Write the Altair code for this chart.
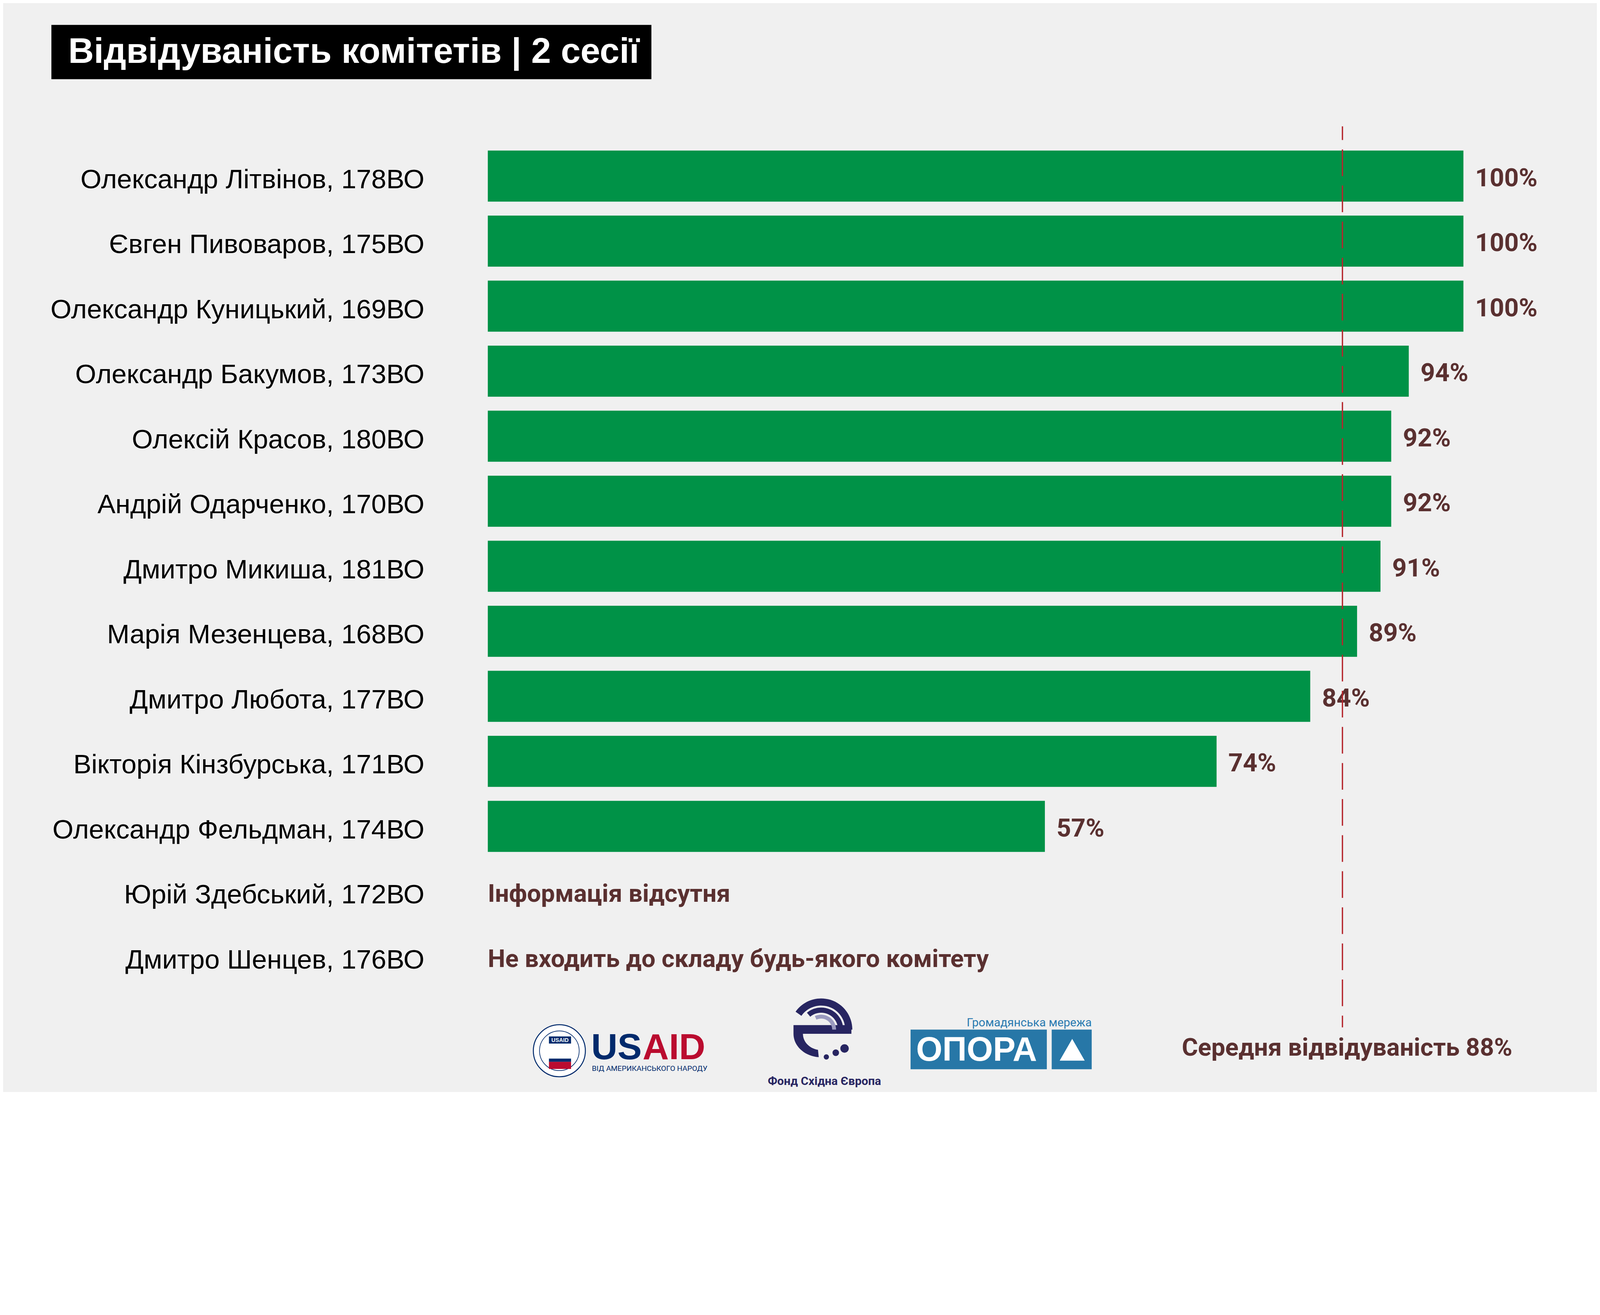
import altair as alt
import pandas as pd

# ---------------- data ----------------
title = "Відвідуваність комітетів | 2 сесії"
names = [
    "Олександр Літвінов, 178ВО",
    "Євген Пивоваров, 175ВО",
    "Олександр Куницький, 169ВО",
    "Олександр Бакумов, 173ВО",
    "Олексій Красов, 180ВО",
    "Андрій Одарченко, 170ВО",
    "Дмитро Микиша, 181ВО",
    "Марія Мезенцева, 168ВО",
    "Дмитро Любота, 177ВО",
    "Вікторія Кінзбурська, 171ВО",
    "Олександр Фельдман, 174ВО",
    "Юрій Здебський, 172ВО",
    "Дмитро Шенцев, 176ВО",
]
attendance = [100, 100, 100, 94.4, 92.6, 92.6, 91.5, 89.1, 84.3, 74.7, 57.1]
attendance_labels = ["100%", "100%", "100%", "94%", "92%", "92%", "91%", "89%", "84%", "74%", "57%"]
note_names = ["Юрій Здебський, 172ВО", "Дмитро Шенцев, 176ВО"]
notes = ["Інформація відсутня", "Не входить до складу будь-якого комітету"]
average_line = 87.6
average_label = "Середня відвідуваність 88%"

# ---------------- styles ----------------
BG = "#f0f0f0"
GREEN = "#009247"
BROWN = "#5a3030"
RED_LINE = "#b5262d"
NAVY = "#002a6c"
USRED = "#ba0c2f"
FOND = "#272561"
OPORA = "#2777a7"
SANS = "'Liberation Sans', Arial, sans-serif"
NARROW = "'Liberation Sans Narrow', 'Arial Narrow', Roboto, sans-serif"

# The page is photographed at a device pixel ratio of about 1.2:
# layout below is given in photo pixels and converted to CSS pixels.
DPR = 1.2
def P(v):   # photo-pixel position -> chart coordinate
    return v / DPR - 8
def Z(v):   # photo-pixel length -> CSS length
    return v / DPR

W, H = 4084, 2788

names_df = pd.DataFrame({"name": names})
bars_df = pd.DataFrame({"name": names[:len(attendance)], "value": attendance, "label": attendance_labels})
notes_df = pd.DataFrame({"name": note_names, "note": notes})

xscale = alt.Scale(domain=[0, 100], range=[P(1500), P(4500)])
Y = alt.Y(
    "name:N",
    sort=names,
    scale=alt.Scale(domain=names, range=[P(440), P(3040)], paddingInner=0.215, paddingOuter=0.1075),
    axis=None,
)

name_text = alt.Chart(names_df).mark_text(
    align="right", baseline="alphabetic", dy=Z(37),
    font=SANS, fontSize=Z(83), color="#000000",
).encode(x=alt.value(P(1305)), y=Y, text="name:N")

bars = alt.Chart(bars_df).mark_bar(color=GREEN).encode(
    x=alt.X("value:Q", scale=xscale, axis=None),
    y=Y,
)

value_text = alt.Chart(bars_df).mark_text(
    align="left", baseline="alphabetic", dx=Z(36), dy=Z(31),
    font=NARROW, fontWeight="bold", fontSize=Z(78), color=BROWN,
).encode(
    x=alt.X("value:Q", scale=xscale, axis=None),
    y=Y,
    text="label:N",
)

note_text = alt.Chart(notes_df).mark_text(
    align="left", baseline="alphabetic", dy=Z(32),
    font=NARROW, fontWeight="bold", fontSize=Z(76), color=BROWN,
).encode(
    x=alt.X(datum=0, type="quantitative", scale=xscale, axis=None),
    y=Y,
    text="note:N",
)

avg_rule = alt.Chart(pd.DataFrame({"avg": [average_line]})).mark_rule(
    color=RED_LINE, strokeWidth=Z(4), strokeDash=[Z(82), Z(29)], strokeDashOffset=Z(40),
).encode(
    x=alt.X("avg:Q", scale=xscale, axis=None),
    y=alt.value(P(387)),
    y2=alt.value(P(3158)),
)

one = lambda t: pd.DataFrame({"t": [t]})

def rect(x1, x2, y1, y2, color):
    return alt.Chart(one("")).mark_rect(color=color).encode(
        x=alt.value(P(x1)), x2=alt.value(P(x2)), y=alt.value(P(y1)), y2=alt.value(P(y2)))

def txt(t, x, y, size, color, font=SANS, weight="normal", align="left"):
    return alt.Chart(one(t)).mark_text(
        align=align, baseline="alphabetic", font=font, fontWeight=weight, fontSize=Z(size), color=color
    ).encode(x=alt.value(P(x)), y=alt.value(P(y)), text="t:N")

def dot(x, y, d, fill, stroke=None, sw=0):
    kw = dict(shape="circle", size=Z(d) ** 2, filled=True, fill=fill, opacity=1)
    if stroke:
        kw.update(stroke=stroke, strokeWidth=Z(sw))
    return alt.Chart(one("")).mark_point(**kw).encode(x=alt.value(P(x)), y=alt.value(P(y)))

def glyph(path, x, y, half, fill):
    # custom symbol: path in [-1, 1] units, scaled to 'half' pixels
    return alt.Chart(one("")).mark_point(
        shape=path, size=(2 * Z(half)) ** 2, filled=True, fill=fill, opacity=1, strokeWidth=0
    ).encode(x=alt.value(P(x)), y=alt.value(P(y)))

def circ(cx, cy, r):
    return (f"M{cx - r},{cy}A{r},{r} 0 1 0 {cx + r},{cy}"
            f"A{r},{r} 0 1 0 {cx - r},{cy}Z")

title_box = rect(158, 2003, 75, 242, "#000000")
title_text = txt(title, 210, 192, 109, "#ffffff", weight="bold")
avg_text = txt(average_label, 3634, 3245, 76, BROWN, font=NARROW, weight="bold")

FOND_DARK = (
    "M-0.786,-0.551A0.96,0.96 0 0 1 0.96,0L0.74,0A0.74,0.74 0 0 0 -0.606,-0.424Z"
    "M-0.437,-0.521A0.68,0.68 0 0 1 0.68,0L0.52,0A0.52,0.52 0 0 0 -0.334,-0.398Z"
    "M-0.85,-0.14L0.93,-0.14L0.93,0.13L-0.85,0.13Z"
    "M-0.85,0.13A0.85,0.72 0 0 0 -0.074,0.847L-0.097,0.622A0.56,0.5 0 0 1 -0.56,0.13Z"
    + circ(0.16, 0.84, 0.08) + circ(0.45, 0.71, 0.10) + circ(0.72, 0.58, 0.13)
)
FOND_LIGHT = "M-0.194,-0.417A0.46,0.46 0 0 1 0.46,0L0.34,0A0.34,0.34 0 0 0 -0.144,-0.308Z"

usaid = [
    dot(1720, 3230, 160, "#ffffff", NAVY, 3),
    dot(1720, 3230, 122, "#ffffff", NAVY, 2),
    rect(1688, 1756, 3186, 3208, NAVY),
    txt("USAID", 1722, 3203, 17, "#ffffff", weight="bold", align="center"),
    rect(1688, 1756, 3254, 3264, NAVY),
    rect(1688, 1756, 3264, 3286, USRED),
    txt("US", 1818, 3256, 112, NAVY, weight="bold"),
    txt("AID", 1976, 3256, 112, USRED, weight="bold"),
    txt("ВІД АМЕРИКАНСЬКОГО НАРОДУ", 1820, 3292, 23, NAVY, font=NARROW),
]

fond = [
    glyph(FOND_DARK, 2525, 3165, 100, FOND),
    glyph(FOND_LIGHT, 2525, 3165, 100, "#9a9abf"),
    txt("Фонд Східна Європа", 2535, 3335, 36, FOND, font=NARROW, weight="bold", align="center"),
]

opora = [
    rect(2800, 3219, 3165, 3287, OPORA),
    rect(3234, 3357, 3165, 3287, OPORA),
    txt("ОПОРА", 2817, 3261, 104, "#ffffff", weight="bold"),
    glyph("M0,-1L1.15,1L-1.15,1Z", 3297, 3227, 33.5, "#ffffff"),
    txt("Громадянська мережа", 3357, 3155, 36, "#2a7ab0", font=NARROW, align="right"),
]

chart = alt.layer(
    title_box, title_text, name_text, bars, value_text, note_text, avg_rule, avg_text,
    *usaid, *fond, *opora,
).properties(
    width=W, height=H, background=BG, padding=0,
    autosize=alt.AutoSizeParams(type="none"),
).configure_view(stroke=None)

chart.save("out.html", embed_options={"renderer": "svg", "actions": False})
